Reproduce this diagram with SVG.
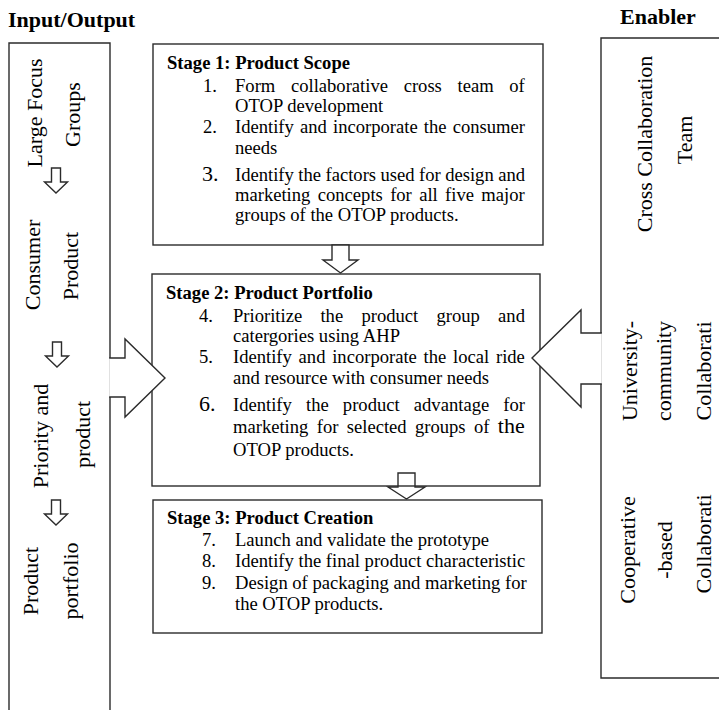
<svg xmlns="http://www.w3.org/2000/svg" width="719" height="710" viewBox="0 0 719 710">
<style>
text{font-family:"Liberation Serif","Times New Roman",serif;font-size:18.6px;fill:#000}
.h{font-weight:bold;font-size:22px}
.b{font-weight:bold}
.big{font-size:22px}
.v{font-size:22px;text-anchor:middle}
.box{fill:#fff;stroke:#2b2b2b;stroke-width:1.4}
.open{fill:none;stroke:#2b2b2b;stroke-width:1.4}
.arr{fill:#fff;stroke:#2b2b2b;stroke-width:1.4;stroke-linejoin:miter}
</style>
<defs>
<path id="smallDown" d="M-4.5,0 H4.5 V14 H11.5 L0,25 L-11.5,14 H-4.5 Z"/>
</defs>
<rect width="719" height="710" fill="#fff"/>

<text class="h" x="8" y="27">Input/Output</text>
<text class="h" x="620" y="24">Enabler</text>

<g id="input-output">
<path class="open" d="M9,712 V43 H110 V712"/>
<text class="v" transform="translate(41.5,113) rotate(-90)">Large Focus</text>
<text class="v" transform="translate(80,114.5) rotate(-90)">Groups</text>
<text class="v" transform="translate(40,265) rotate(-90)">Consumer</text>
<text class="v" transform="translate(78,266) rotate(-90)">Product</text>
<text class="v" transform="translate(47.5,436) rotate(-90)">Priority and</text>
<text class="v" transform="translate(90,434.5) rotate(-90)">product</text>
<text class="v" transform="translate(38,581) rotate(-90)">Product</text>
<text class="v" transform="translate(78,581) rotate(-90)">portfolio</text>
</g>

<g id="enabler">
<path class="open" d="M721,38 H601 V678 H721"/>
<text class="v" transform="translate(651.5,144) rotate(-90)">Cross Collaboration</text>
<text class="v" transform="translate(691.5,140) rotate(-90)">Team</text>
<text class="v" transform="translate(637,371) rotate(-90)">University-</text>
<text class="v" transform="translate(670.5,371) rotate(-90)">community</text>
<text class="v" transform="translate(710.5,371) rotate(-90)">Collaborati</text>
<text class="v" transform="translate(634.6,550) rotate(-90)">Cooperative</text>
<text class="v" transform="translate(672,550) rotate(-90)">-based</text>
<text class="v" transform="translate(711,544) rotate(-90)">Collaborati</text>
</g>

<g id="stage1">
<rect class="box" x="153" y="44" width="390" height="201"/>
<text class="b" x="167" y="69">Stage 1: Product Scope</text>
<text x="203" y="92">1.</text>
<text x="235" y="92" word-spacing="11">Form collaborative cross team of</text>
<text x="235" y="112">OTOP development</text>
<text x="203" y="133">2.</text>
<text x="235" y="133" word-spacing="1.5">Identify and incorporate the consumer</text>
<text x="235" y="154">needs</text>
<text class="big" x="202" y="181">3.</text>
<text x="235" y="181" word-spacing="-0.2">Identify the factors used for design and</text>
<text x="235" y="201" word-spacing="2.7">marketing concepts for all five major</text>
<text x="235" y="221">groups of the OTOP products.</text>
</g>

<g id="connectors">
<path class="arr" d="M398,473 H415 V487 H425 L406.5,499 L388,487 H398 Z"/>
</g>

<g id="stage2">
<rect class="open" x="152" y="274" width="388" height="212"/>
<text class="b" x="166" y="299">Stage 2: Product Portfolio</text>
<text x="199" y="322">4.</text>
<text x="233" y="322" word-spacing="13.6">Prioritize the product group and</text>
<text x="233" y="342">catergories using AHP</text>
<text x="199" y="363">5.</text>
<text x="233" y="363" word-spacing="2.1">Identify and incorporate the local ride</text>
<text x="233" y="384">and resource with consumer needs</text>
<text class="big" x="199" y="411">6.</text>
<text x="233" y="411" word-spacing="9.5">Identify the product advantage for</text>
<text x="233" y="433" word-spacing="3.7">marketing for selected groups of <tspan class="big">the</tspan></text>
<text x="233" y="456">OTOP products.</text>
</g>

<g id="stage3">
<rect class="box" x="153" y="500" width="389" height="133"/>
<text class="b" x="167" y="524">Stage 3: Product Creation</text>
<text x="202" y="546">7.</text>
<text x="235" y="546">Launch and validate the prototype</text>
<text x="202" y="567">8.</text>
<text x="235" y="567">Identify the final product characteristic</text>
<text x="202" y="589">9.</text>
<text x="235" y="589">Design of packaging and marketing for</text>
<text x="235" y="610">the OTOP products.</text>
</g>

<g id="connectors-main">
<path class="arr" d="M332,245 H349 V260 H358 L340.5,273 L323,260 H332 Z"/>
<path class="arr" d="M109.2,358 H125 V339 L165,378 L125,417 V397 H109.2"/>
<path class="arr" d="M601.8,333 H581 V310 L532,358 L581,407 V384 H601.8"/>
<use href="#smallDown" class="arr" x="56" y="168"/>
<use href="#smallDown" class="arr" x="57" y="342"/>
<use href="#smallDown" class="arr" x="56" y="500"/>
</g>
</svg>
